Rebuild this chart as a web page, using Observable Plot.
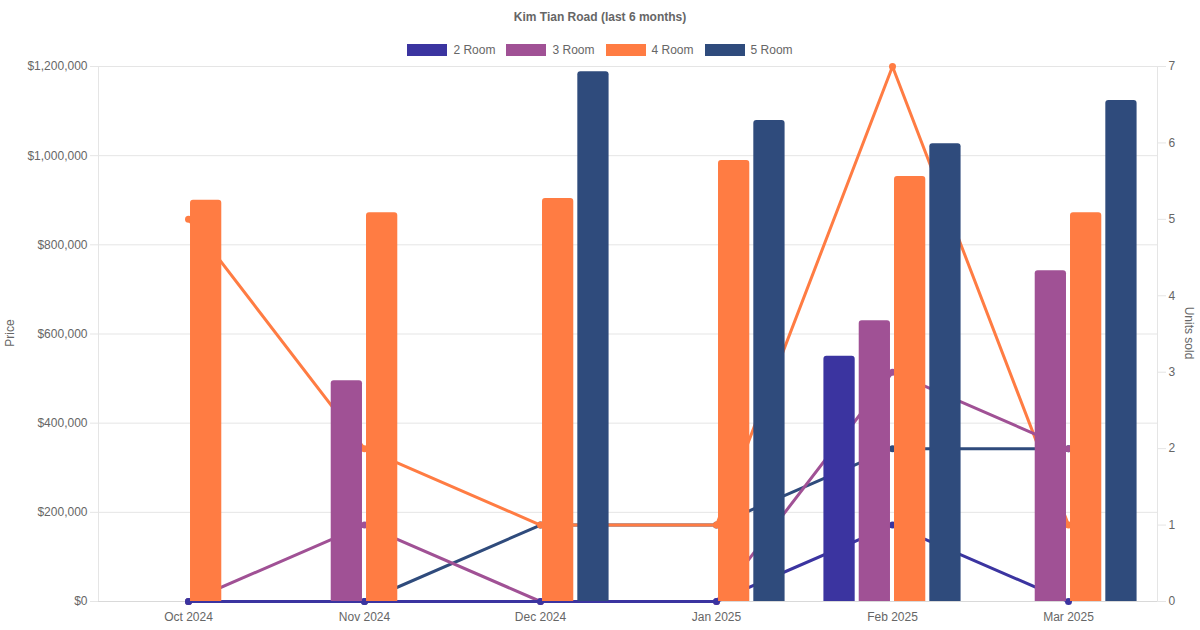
<!DOCTYPE html>
<html>
<head>
<meta charset="utf-8">
<script src="https://cdn.jsdelivr.net/npm/d3@7"></script>
<script src="https://cdn.jsdelivr.net/npm/@observablehq/plot@0.6"></script>
<style>
  html, body { margin: 0; padding: 0; background: #fff; }
  body { width: 1200px; height: 630px; position: relative; overflow: hidden;
         font-family: "Liberation Sans", Arial, Helvetica, sans-serif; color: #666; }
  #title { position: absolute; top: 9px; left: 0; width: 1200px; text-align: center;
           font-size: 12px; font-weight: bold; color: #666; line-height: 16px; }
  #legend { position: absolute; top: 42px; left: 0; width: 1200px; display: flex;
            justify-content: center; font-size: 12px; color: #666; line-height: 16px; }
  .item { display: flex; align-items: center; margin: 0 5.5px; }
  .box { width: 40px; height: 12px; margin-right: 6px; }
  #chart { position: absolute; top: 58px; left: 0; }
  .ytitle { position: absolute; font-size: 12px; color: #666; white-space: nowrap; line-height: 14px; }
</style>
</head>
<body>
<div id="title">Kim Tian Road (last 6 months)</div>
<div id="legend"></div>
<div id="chart"></div>
<div class="ytitle" id="lt" style="left:-4px; top:326px; transform: rotate(-90deg);">Price</div>
<div class="ytitle" id="rt" style="left:1163px; top:326px; transform: rotate(90deg);">Units sold</div>
<script>
const months = ["Oct 2024", "Nov 2024", "Dec 2024", "Jan 2025", "Feb 2025", "Mar 2025"];
const rooms = ["2 Room", "3 Room", "4 Room", "5 Room"];
const colors = ["#3b34a0", "#a05195", "#ff7c43", "#2f4b7c"];

const price2 = [null, null, null, null, 550000, null];
const price3 = [null, 495000, null, null, 630000, 742000];
const price4 = [900000, 872000, 904000, 989000, 953000, 872000];
const price5 = [null, null, 1188000, 1079000, 1027000, 1124000];

const units2 = [0, 0, 0, 0, 1, 0];
const units3 = [0, 1, 0, 0, 3, 2];
const units4 = [5, 2, 1, 1, 7, 1];
const units5 = [0, 0, 1, 1, 2, 2];

const priceTicks = [0, 200000, 400000, 600000, 800000, 1000000, 1200000];
const unitTicks = [0, 1, 2, 3, 4, 5, 6, 7];

const prices = [price2, price3, price4, price5];
const units = [units2, units3, units4, units5];
const priceMax = 1200000, unitMax = 7;
const k = priceMax / unitMax;

// legend
const legend = document.getElementById("legend");
rooms.forEach((r, i) => {
  const it = document.createElement("div");
  it.className = "item";
  it.innerHTML = `<div class="box" style="background:${colors[i]}"></div><span>${r}</span>`;
  legend.appendChild(it);
});

const width = 1200, height = 572;
const marginLeft = 98, marginRight = 43, marginTop = 8, marginBottom = 29;
const band = (width - marginLeft - marginRight) / months.length;
const slot = band * 0.8 / rooms.length;
const barW = slot * 0.9;

const barData = rooms.map((r, i) => months.map((m, j) => ({month: m, room: r, price: prices[i][j]})).filter(d => d.price != null));
const lineData = rooms.map((r, i) => months.map((m, j) => ({month: m, room: r, units: units[i][j]})));

const marks = [
  Plot.gridY(priceTicks, {stroke: "#e5e5e5", strokeOpacity: 1}),
  Plot.frame({stroke: "#e5e5e5"}),
  Plot.ruleY([0], {stroke: "#d9d9d9"}),
  Plot.axisY(priceTicks, {anchor: "left", tickFormat: d => "$" + d3.format(",")(d), tickSize: 8, tickPadding: 3,
    stroke: "#e5e5e5", strokeOpacity: 1, fill: "#666", label: null}),
  Plot.axisY(unitTicks.map(d => d * k), {anchor: "right", tickFormat: d => String(Math.round(d / k)), tickSize: 8, tickPadding: 3,
    stroke: "#e5e5e5", strokeOpacity: 1, fill: "#666", label: null}),
  Plot.axisX({tickSize: 0, tickPadding: 11, fill: "#666", label: null})
];

// lines (2 Room drawn last = on top among lines)
for (let i = rooms.length - 1; i >= 0; i--) {
  marks.push(Plot.lineY(lineData[i], {x: "month", y: d => d.units * k, stroke: colors[i], strokeWidth: 3}));
  marks.push(Plot.dot(lineData[i], {x: "month", y: d => d.units * k, fill: colors[i], r: 3.5, stroke: null}));
}
// bars on top
rooms.forEach((r, i) => {
  const left = band * 0.1 + slot * i + slot * 0.05;
  const right = band - left - barW;
  marks.push(Plot.barY(barData[i], {x: "month", y: "price", fill: colors[i], insetLeft: left, insetRight: right, ry1: 3}));
});

const chart = Plot.plot({
  width, height, marginLeft, marginRight, marginTop, marginBottom,
  style: {fontFamily: '"Liberation Sans", Arial, Helvetica, sans-serif', fontSize: "12px", color: "#666", background: "transparent"},
  x: {type: "band", domain: months, padding: 0, axis: null},
  y: {domain: [0, priceMax], axis: null},
  marks
});
document.getElementById("chart").appendChild(chart);
</script>
</body>
</html>
